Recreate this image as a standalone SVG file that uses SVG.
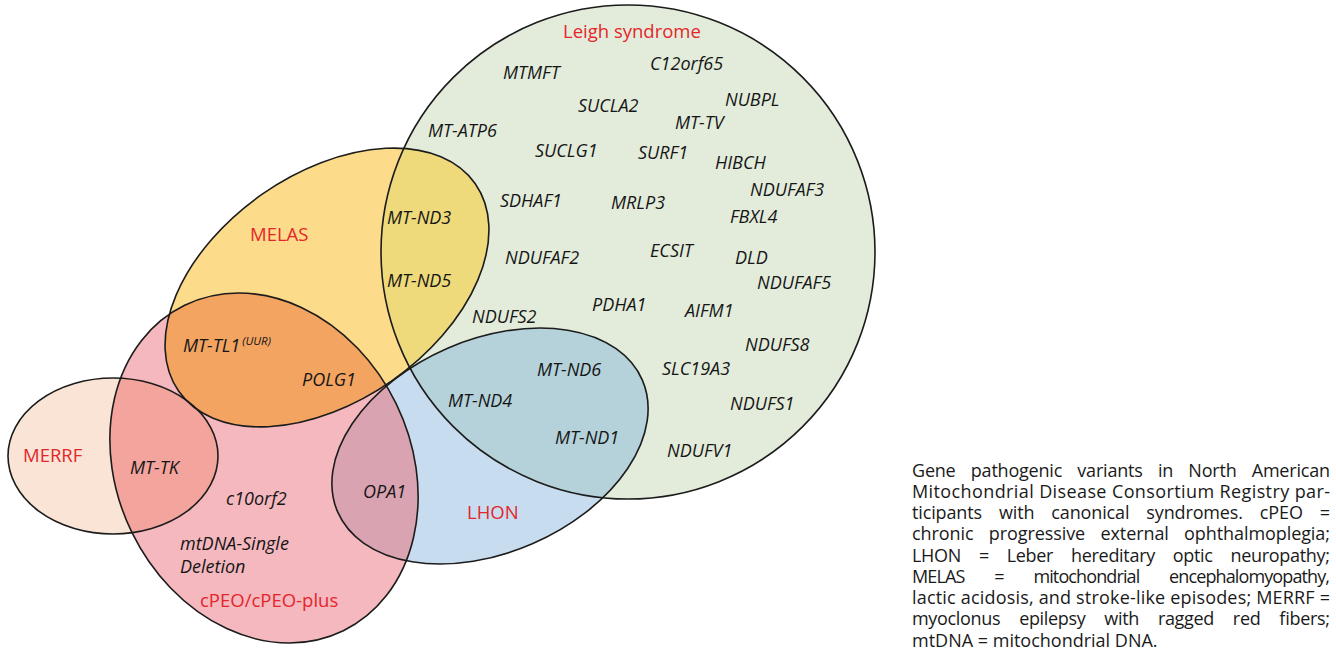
<svg xmlns="http://www.w3.org/2000/svg" width="1336" height="649" viewBox="0 0 1336 649">
<style>
.o{fill:none;stroke:#1c1c1c;stroke-width:1.6}
.g{font-family:"Open Sans","Noto Sans","DejaVu Sans",sans-serif;font-style:italic;font-size:18px;fill:#161616}
.sup{font-size:11.5px}
.r{font-family:"Open Sans","Noto Sans","DejaVu Sans",sans-serif;font-size:18.5px;fill:#e3262c}
.c{font-family:"Open Sans","Noto Sans","DejaVu Sans",sans-serif;font-size:18px;fill:#1a1a1a}
</style>
<defs>
<circle id="leigh" cx="628" cy="252" r="247"/>
<ellipse id="melas" cx="327" cy="287.5" rx="181" ry="113.6" transform="rotate(-35 327 287.5)"/>
<ellipse id="cpeo" cx="264" cy="468" rx="147" ry="181" transform="rotate(-26 264 468)"/>
<ellipse id="merrf" cx="113" cy="456" rx="105" ry="78"/>
<ellipse id="lhon" cx="490" cy="446" rx="166" ry="106.6" transform="rotate(-23.4 490 446)"/>
<clipPath id="cLeigh"><circle cx="628" cy="252" r="247"/></clipPath>
<clipPath id="cCpeo"><ellipse cx="264" cy="468" rx="147" ry="181" transform="rotate(-26 264 468)"/></clipPath>
</defs>

<g id="fills">
<use href="#leigh" fill="#e3ecdb"/>
<use href="#melas" fill="#fcdc8b"/>
<use href="#cpeo" fill="#f5b8bf"/>
<use href="#merrf" fill="#f9e4d5"/>
<use href="#lhon" fill="#c8dcf0"/>
<g clip-path="url(#cLeigh)"><use href="#melas" fill="#eed97b"/></g>
<g clip-path="url(#cCpeo)"><use href="#melas" fill="#f3a461"/></g>
<g clip-path="url(#cCpeo)"><use href="#merrf" fill="#f3a59d"/></g>
<g clip-path="url(#cLeigh)"><use href="#lhon" fill="#b5d2da"/></g>
<g clip-path="url(#cCpeo)"><use href="#lhon" fill="#d9a3b2"/></g>
</g>

<g id="outlines">
<use href="#leigh" class="o"/>
<use href="#melas" class="o"/>
<use href="#cpeo" class="o"/>
<use href="#merrf" class="o"/>
<use href="#lhon" class="o"/>
</g>

<g id="leigh-syndrome">
<text class="r" x="563" y="38">Leigh syndrome</text>
<text class="g" x="503" y="79">MTMFT</text>
<text class="g" x="650" y="70">C12orf65</text>
<text class="g" x="578" y="112">SUCLA2</text>
<text class="g" x="725" y="106">NUBPL</text>
<text class="g" x="675" y="129">MT-TV</text>
<text class="g" x="428" y="137">MT-ATP6</text>
<text class="g" x="535" y="157">SUCLG1</text>
<text class="g" x="638" y="159">SURF1</text>
<text class="g" x="715" y="169">HIBCH</text>
<text class="g" x="750" y="196">NDUFAF3</text>
<text class="g" x="500" y="207">SDHAF1</text>
<text class="g" x="611" y="209">MRLP3</text>
<text class="g" x="730" y="223">FBXL4</text>
<text class="g" x="505" y="264">NDUFAF2</text>
<text class="g" x="650" y="257">ECSIT</text>
<text class="g" x="735" y="264">DLD</text>
<text class="g" x="757" y="289">NDUFAF5</text>
<text class="g" x="592" y="311">PDHA1</text>
<text class="g" x="685" y="317">AIFM1</text>
<text class="g" x="472" y="323">NDUFS2</text>
<text class="g" x="745" y="351">NDUFS8</text>
<text class="g" x="662" y="375">SLC19A3</text>
<text class="g" x="730" y="410">NDUFS1</text>
<text class="g" x="667" y="457">NDUFV1</text>
</g>

<g id="leigh-melas">
<text class="g" x="387" y="224">MT-ND3</text>
<text class="g" x="387" y="287">MT-ND5</text>
</g>

<g id="melas-set">
<text class="r" x="250" y="241">MELAS</text>
</g>

<g id="melas-cpeo">
<text class="g" x="183" y="352">MT-TL1<tspan class="sup" dx="2" dy="-7">(UUR)</tspan></text>
<text class="g" x="302" y="386">POLG1</text>
</g>

<g id="leigh-lhon">
<text class="g" x="537" y="376">MT-ND6</text>
<text class="g" x="448" y="407">MT-ND4</text>
<text class="g" x="555" y="444">MT-ND1</text>
</g>

<g id="lhon-set">
<text class="r" x="467" y="519">LHON</text>
</g>

<g id="merrf-set">
<text class="r" x="23" y="462">MERRF</text>
</g>

<g id="merrf-cpeo">
<text class="g" x="130" y="474">MT-TK</text>
</g>

<g id="lhon-cpeo">
<text class="g" x="363" y="498">OPA1</text>
</g>

<g id="cpeo-set">
<text class="g" x="226" y="505">c10orf2</text>
<text class="g" x="180" y="550">mtDNA-Single</text>
<text class="g" x="180" y="573">Deletion</text>
<text class="r" x="200" y="607">cPEO/cPEO-plus</text>
</g>

<g id="caption" class="c">
<text x="912" y="476.5" word-spacing="10.8" textLength="418" lengthAdjust="spacing">Gene pathogenic variants in North American</text>
<text x="912" y="497.75" textLength="418" lengthAdjust="spacing">Mitochondrial Disease Consortium Registry par-</text>
<text x="912" y="519" word-spacing="12.4" textLength="418" lengthAdjust="spacing">ticipants with canonical syndromes. cPEO =</text>
<text x="912" y="540.25" word-spacing="10.7" textLength="418" lengthAdjust="spacing">chronic progressive external ophthalmoplegia;</text>
<text x="912" y="561.5" word-spacing="13.5" textLength="418" lengthAdjust="spacing">LHON = Leber hereditary optic neuropathy;</text>
<text x="912" y="582.75" word-spacing="26" textLength="418" lengthAdjust="spacing">MELAS = mitochondrial encephalomyopathy,</text>
<text x="912" y="604" textLength="418" lengthAdjust="spacing">lactic acidosis, and stroke-like episodes; MERRF =</text>
<text x="912" y="625.25" word-spacing="14.5" textLength="418" lengthAdjust="spacing">myoclonus epilepsy with ragged red fibers;</text>
<text x="912" y="646.5">mtDNA = mitochondrial DNA.</text>
</g>
</svg>
